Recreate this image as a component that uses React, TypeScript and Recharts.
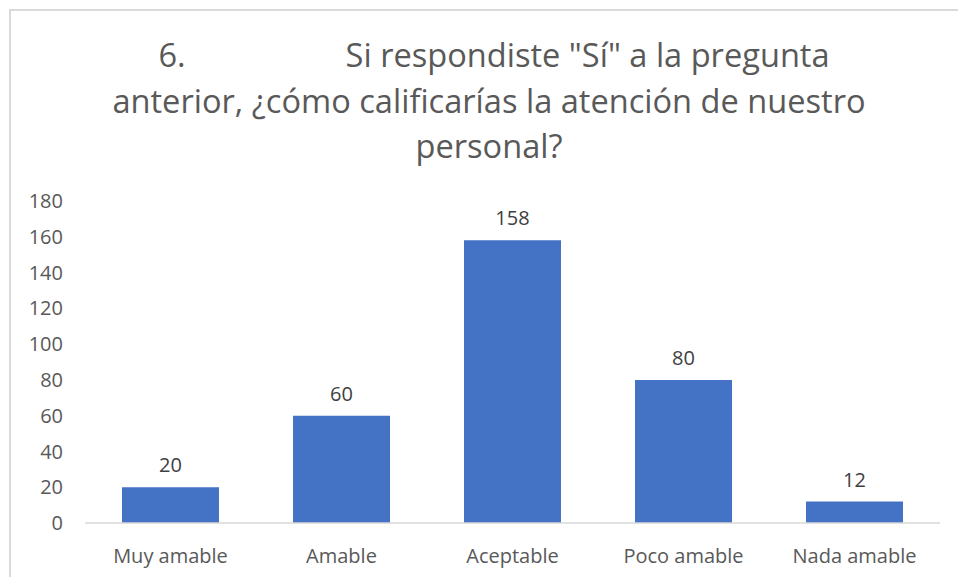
import { BarChart, Bar, XAxis, YAxis, LabelList } from 'recharts'

const categories = ['Muy amable', 'Amable', 'Aceptable', 'Poco amable', 'Nada amable']
const respuestas = [20, 60, 158, 80, 12]
const yTicks = [0, 20, 40, 60, 80, 100, 120, 140, 160, 180]

const titleNumber = '6.'
const titleLine1 = 'Si respondiste "Sí" a la pregunta'
const titleLine2 = 'anterior, ¿cómo calificarías la atención de nuestro'
const titleLine3 = 'personal?'

const data = categories.map((name, i) => ({ name, value: respuestas[i] }))

const font = '"Open Sans", sans-serif'

export default function App() {
  const lineStyle: React.CSSProperties = {
    position: 'absolute',
    left: 0,
    width: 978,
    textAlign: 'center',
    fontSize: 32.6,
    lineHeight: '45px',
    color: '#595959',
    whiteSpace: 'nowrap',
  }
  return (
    <div
      style={{
        position: 'fixed',
        left: 0,
        top: 0,
        width: 958,
        height: 577,
        overflow: 'hidden',
        background: '#fff',
        fontFamily: font,
      }}
    >
      <div
        style={{
          position: 'absolute',
          left: 9,
          top: 9,
          width: 1000,
          height: 1000,
          border: '2px solid #d9d9d9',
        }}
      />
      <div style={{ ...lineStyle, top: 32, left: 5 }}>
        {titleNumber}
        <span style={{ display: 'inline-block', width: 160 }} />
        {titleLine1}
      </div>
      <div style={{ ...lineStyle, top: 78 }}>{titleLine2}</div>
      <div style={{ ...lineStyle, top: 123 }}>{titleLine3}</div>
      <div style={{ position: 'absolute', left: 0, top: 0 }}>
        <BarChart
          width={958}
          height={577}
          data={data}
          margin={{ top: 201, right: 18, bottom: 24, left: 0 }}
          barCategoryGap={0}
        >
          <XAxis
            dataKey="name"
            height={30}
            interval={0}
            tickLine={false}
            tickSize={0}
            tickMargin={26}
            axisLine={{ stroke: '#d9d9d9', strokeWidth: 1.5 }}
            tick={{ fill: '#595959', fontSize: 20, fontFamily: font }}
          />
          <YAxis
            width={85}
            domain={[0, 180]}
            ticks={yTicks}
            interval={0}
            axisLine={false}
            tickLine={false}
            tickSize={0}
            tickMargin={22}
            tick={{ fill: '#595959', fontSize: 20, fontFamily: font }}
          />
          <Bar dataKey="value" fill="#4472C4" barSize={97} isAnimationActive={false}>
            <LabelList
              dataKey="value"
              position="top"
              offset={15}
              fill="#404040"
              fontSize={20}
              fontFamily={font}
            />
          </Bar>
        </BarChart>
      </div>
    </div>
  )
}
